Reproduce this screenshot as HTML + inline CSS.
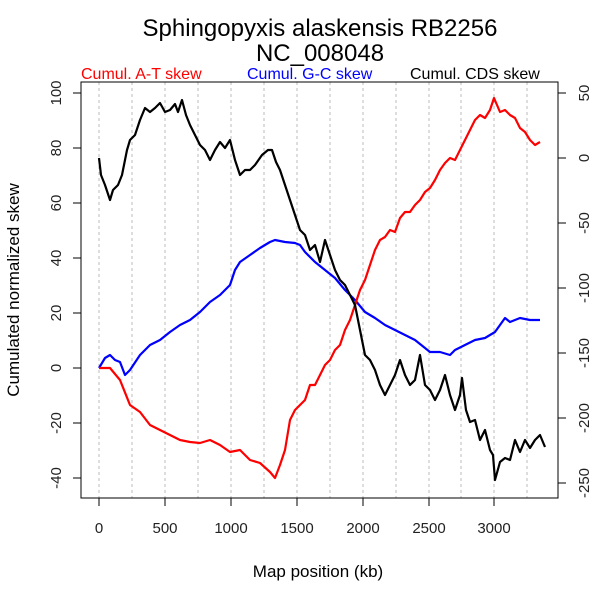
<!DOCTYPE html><html><head><style>body{margin:0;background:#fff}svg text{font-family:"Liberation Sans",sans-serif}</style></head><body>
<svg width="600" height="600" viewBox="0 0 600 600" xmlns="http://www.w3.org/2000/svg">
<text x="320" y="36" font-size="24" text-anchor="middle">Sphingopyxis alaskensis RB2256</text>
<text x="320" y="61" font-size="24" text-anchor="middle">NC_008048</text>
<text x="81" y="79" font-size="16" fill="#f00">Cumul. A-T skew</text>
<text x="247" y="79" font-size="16" fill="#00f">Cumul. G-C skew</text>
<text x="410" y="79" font-size="16" fill="#000">Cumul. CDS skew</text>
<g stroke="#bbb" stroke-dasharray="3,3" stroke-width="1">
<line x1="99" y1="82" x2="99" y2="498"/><line x1="132" y1="82" x2="132" y2="498"/><line x1="165" y1="82" x2="165" y2="498"/><line x1="198" y1="82" x2="198" y2="498"/><line x1="231" y1="82" x2="231" y2="498"/><line x1="264" y1="82" x2="264" y2="498"/><line x1="297" y1="82" x2="297" y2="498"/><line x1="330" y1="82" x2="330" y2="498"/><line x1="363" y1="82" x2="363" y2="498"/><line x1="396" y1="82" x2="396" y2="498"/><line x1="429" y1="82" x2="429" y2="498"/><line x1="461" y1="82" x2="461" y2="498"/><line x1="494" y1="82" x2="494" y2="498"/><line x1="527" y1="82" x2="527" y2="498"/>
</g>
<rect x="81" y="82" width="477" height="416" fill="none" stroke="#000"/>
<g stroke="#000"><line x1="99" y1="498" x2="99" y2="506"/><line x1="165" y1="498" x2="165" y2="506"/><line x1="231" y1="498" x2="231" y2="506"/><line x1="297" y1="498" x2="297" y2="506"/><line x1="363" y1="498" x2="363" y2="506"/><line x1="429" y1="498" x2="429" y2="506"/><line x1="494" y1="498" x2="494" y2="506"/>
<line x1="73" y1="93" x2="81" y2="93"/><line x1="73" y1="148" x2="81" y2="148"/><line x1="73" y1="203" x2="81" y2="203"/><line x1="73" y1="258" x2="81" y2="258"/><line x1="73" y1="313" x2="81" y2="313"/><line x1="73" y1="368" x2="81" y2="368"/><line x1="73" y1="423" x2="81" y2="423"/><line x1="73" y1="478" x2="81" y2="478"/>
<line x1="558" y1="93" x2="566" y2="93"/><line x1="558" y1="158" x2="566" y2="158"/><line x1="558" y1="223" x2="566" y2="223"/><line x1="558" y1="288" x2="566" y2="288"/><line x1="558" y1="353" x2="566" y2="353"/><line x1="558" y1="418" x2="566" y2="418"/><line x1="558" y1="483" x2="566" y2="483"/></g>
<g font-size="15" fill="#222" text-anchor="middle">
<text x="99" y="533">0</text><text x="165" y="533">500</text><text x="231" y="533">1000</text><text x="297" y="533">1500</text><text x="363" y="533">2000</text><text x="429" y="533">2500</text><text x="494" y="533">3000</text>
<g transform="translate(61,0)"><text transform="translate(0,93) rotate(-90)">100</text><text transform="translate(0,148) rotate(-90)">80</text><text transform="translate(0,203) rotate(-90)">60</text><text transform="translate(0,258) rotate(-90)">40</text><text transform="translate(0,313) rotate(-90)">20</text><text transform="translate(0,368) rotate(-90)">0</text><text transform="translate(0,423) rotate(-90)">-20</text><text transform="translate(0,478) rotate(-90)">-40</text></g>
<g transform="translate(589,0)"><text transform="translate(0,93) rotate(-90)">50</text><text transform="translate(0,158) rotate(-90)">0</text><text transform="translate(0,223) rotate(-90)">-50</text><text transform="translate(0,288) rotate(-90)">-100</text><text transform="translate(0,353) rotate(-90)">-150</text><text transform="translate(0,418) rotate(-90)">-200</text><text transform="translate(0,483) rotate(-90)">-250</text></g>
</g>
<text x="318" y="577" font-size="17" text-anchor="middle">Map position (kb)</text>
<text transform="translate(19,290) rotate(-90)" font-size="17" text-anchor="middle">Cumulated normalized skew</text>
<g fill="none" stroke-width="2.2" stroke-linejoin="round">
<polyline stroke="#00f" points="99,368 105,358 110,355 115,360 120,362 125,375 130,370 140,355 150,345 160,340 170,332 180,325 190,320 200,312 210,302 220,295 230,285 235,270 240,262 250,255 260,248 270,242 275,240 285,242 295,243 300,245 305,252 315,262 325,270 335,278 345,290 355,300 365,312 375,318 385,325 395,330 405,335 415,340 425,348 430,352 440,352 450,355 455,350 465,345 475,340 485,338 495,332 505,318 510,322 520,318 530,320 540,320"/>
<polyline stroke="#f00" points="99,368 110,368 120,380 130,405 140,412 150,425 160,430 170,435 180,440 190,442 200,443 210,440 220,445 230,452 240,450 250,460 260,463 270,472 275,478 280,465 285,450 290,420 295,410 300,405 305,400 310,385 315,385 320,375 325,365 330,360 335,350 340,345 345,330 350,320 355,305 360,290 365,280 370,265 375,250 380,240 385,237 390,230 395,232 400,218 405,212 410,212 415,205 420,200 425,192 430,188 435,180 440,170 445,163 450,158 455,160 460,150 465,140 470,130 475,120 480,115 485,118 490,110 494,98 497,105 500,112 505,110 510,115 515,118 520,128 525,132 530,140 535,145 540,142"/>
<polyline stroke="#000" points="99,158 101,175 105,185 110,200 113,190 118,185 122,175 127,150 130,140 135,135 140,120 145,108 150,112 155,108 160,103 165,112 170,110 175,104 178,112 182,100 186,115 190,125 195,135 200,145 205,150 210,160 215,150 220,142 225,148 230,140 235,160 240,175 245,170 250,170 255,165 262,155 268,150 272,150 276,162 280,170 285,185 290,200 295,215 300,230 305,235 310,250 315,245 320,262 325,240 330,255 335,270 340,280 345,285 350,295 355,305 358,320 362,340 365,355 370,360 375,370 380,385 385,395 390,385 395,375 400,360 405,375 410,385 415,380 420,355 425,385 430,390 435,400 440,390 445,375 450,395 455,410 460,395 462,378 466,410 470,422 475,420 480,440 485,430 490,450 493,455 495,480 500,462 505,458 510,460 515,440 520,452 525,440 530,448 535,440 540,435 545,447"/>
</g>
</svg></body></html>
